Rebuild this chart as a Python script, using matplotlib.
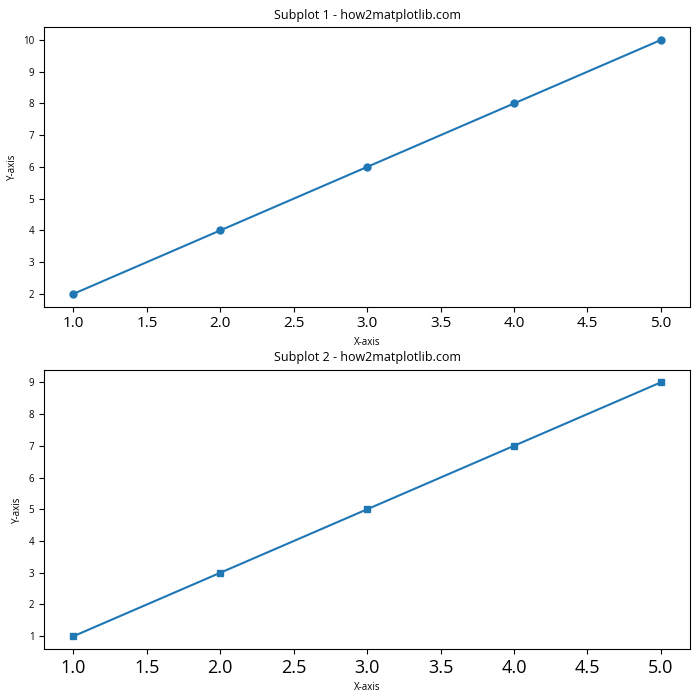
import matplotlib.pyplot as plt

plt.rcParams['font.family'] = ['Open Sans', 'DejaVu Sans']

x = [1, 2, 3, 4, 5]
y1 = [2, 4, 6, 8, 10]
y2 = [1, 3, 5, 7, 9]

fig, (ax1, ax2) = plt.subplots(2, 1, figsize=(7, 7))

ax1.plot(x, y1, marker='o', markersize=5)
ax1.set_title('Subplot 1 - how2matplotlib.com', fontsize=9)
ax1.set_xlabel('X-axis', fontsize=7)
ax1.set_ylabel('Y-axis', fontsize=7)
ax1.tick_params(axis='x', labelsize=11)
ax1.tick_params(axis='y', labelsize=7)

ax2.plot(x, y2, marker='s', markersize=5)
ax2.set_title('Subplot 2 - how2matplotlib.com', fontsize=9)
ax2.set_xlabel('X-axis', fontsize=7)
ax2.set_ylabel('Y-axis', fontsize=7)
ax2.tick_params(axis='x', labelsize=13)
ax2.tick_params(axis='y', labelsize=7)

fig.subplots_adjust(left=0.063, right=0.986, top=0.961, bottom=0.073, hspace=0.226)
plt.savefig('out.png', dpi=100)
